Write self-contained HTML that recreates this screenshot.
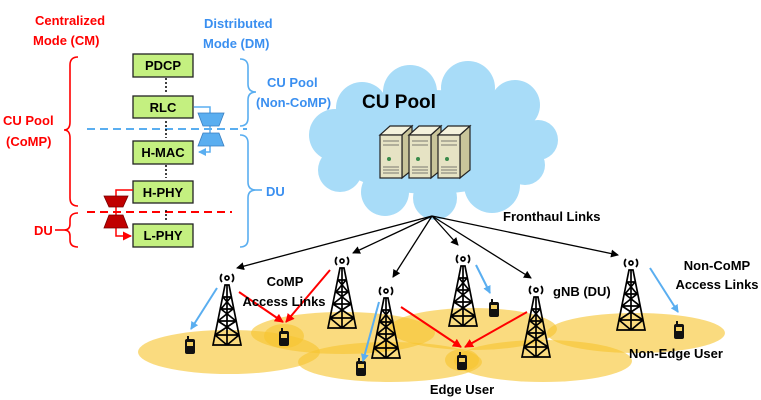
<!DOCTYPE html>
<html><head><meta charset="utf-8"><style>
html,body{margin:0;padding:0;background:#fff;}
svg{display:block;font-family:"Liberation Sans",sans-serif;font-weight:bold;}
</style></head><body>
<svg width="761" height="400" viewBox="0 0 761 400" xmlns="http://www.w3.org/2000/svg">
<defs>
<marker id="ak" markerWidth="8" markerHeight="8" refX="7" refY="4" orient="auto" markerUnits="userSpaceOnUse"><path d="M0,0L8,4L0,8z" fill="#000"/></marker>
<marker id="ar" markerWidth="9" markerHeight="9" refX="8" refY="4.5" orient="auto" markerUnits="userSpaceOnUse"><path d="M0,0L9,4.5L0,9z" fill="#f00"/></marker>
<marker id="ab" markerWidth="8" markerHeight="8" refX="7" refY="4" orient="auto" markerUnits="userSpaceOnUse"><path d="M0,0L8,4L0,8z" fill="#5aaef0"/></marker>
<g id="tw" fill="none" stroke="#000" stroke-width="1.7">
<circle cx="0" cy="-3" r="2"/>
<path d="M-5,-7 A6,6 0 0,0 -5,1 M5,-7 A6,6 0 0,1 5,1"/>
<path d="M-2,4 L-14,64 L14,64 L2,4 Z M0,4 L0,64 M-4,16 L4,16 M-6,28 L6,28 M-9,40 L9,40 M-12,54 L12,54 M-4,16 L6,28 M4,16 L-6,28 M-6,28 L9,40 M6,28 L-9,40 M-9,40 L12,54 M9,40 L-12,54 M-12,54 L0,64 M12,54 L0,64"/>
</g>
<g id="ph"><rect x="-5" y="-7" width="10" height="15" rx="2" fill="#111"/><rect x="-3" y="-4" width="6" height="4" fill="#f5d060"/><rect x="-3" y="-10" width="2" height="4" fill="#111"/></g>
<g id="sv">
<polygon points="0,14 10,5 32,5 22,14" fill="#f4f2dc" stroke="#222" stroke-width="1.2"/>
<polygon points="22,14 32,5 32,49 22,57" fill="#c9c59a" stroke="#222" stroke-width="1.2"/>
<rect x="0" y="14" width="22" height="43" fill="#e6e3c4" stroke="#222" stroke-width="1.2"/>
<path d="M3,20h16M3,24h16M3,46h16M3,49h16M3,52h16" stroke="#555" stroke-width="0.8"/>
<circle cx="9" cy="38" r="2" fill="#3a8a4a"/>
</g>
</defs>

<!-- cloud -->
<g fill="#a8dcf8">
<ellipse cx="432" cy="142" rx="108" ry="52"/>
<circle cx="362" cy="108" r="26"/><circle cx="410" cy="92" r="27"/><circle cx="468" cy="88" r="27"/><circle cx="515" cy="105" r="25"/>
<circle cx="538" cy="140" r="20"/><circle cx="335" cy="135" r="26"/><circle cx="340" cy="170" r="22"/>
<circle cx="385" cy="192" r="24"/><circle cx="435" cy="198" r="22"/><circle cx="492" cy="185" r="28"/><circle cx="525" cy="165" r="20"/>
</g>
<text x="399" y="108" font-size="19" text-anchor="middle" fill="#000">CU Pool</text>
<use href="#sv" x="380" y="121"/><use href="#sv" x="409" y="121"/><use href="#sv" x="438" y="121"/>
<text x="503" y="221" font-size="13">Fronthaul Links</text>

<!-- coverage -->
<g fill="#f7c531" fill-opacity="0.62">
<ellipse cx="229" cy="352" rx="91" ry="22"/><ellipse cx="343" cy="333" rx="92" ry="21"/>
<ellipse cx="390" cy="362" rx="92" ry="20"/><ellipse cx="473" cy="329" rx="84" ry="21"/>
<ellipse cx="543" cy="361" rx="89" ry="21"/><ellipse cx="636" cy="333" rx="89" ry="20"/>
<ellipse cx="284" cy="336" rx="20" ry="12"/><ellipse cx="462" cy="360" rx="17" ry="11"/>
</g>

<!-- fronthaul -->
<g stroke="#000" stroke-width="1.3" marker-end="url(#ak)">
<line x1="432" y1="216" x2="237" y2="268"/><line x1="432" y1="216" x2="353" y2="253"/>
<line x1="432" y1="216" x2="393" y2="277"/><line x1="432" y1="216" x2="458" y2="245"/>
<line x1="432" y1="216" x2="531" y2="278"/><line x1="432" y1="216" x2="618" y2="255"/>
</g>

<!-- towers -->
<use href="#tw" x="227" y="281"/><use href="#tw" x="342" y="264"/><use href="#tw" x="386" y="294"/>
<use href="#tw" x="463" y="262"/><use href="#tw" x="536" y="293"/><use href="#tw" x="631" y="266"/>

<!-- phones -->
<use href="#ph" x="190" y="346"/><use href="#ph" x="284" y="338"/><use href="#ph" x="361" y="368"/>
<use href="#ph" x="494" y="309"/><use href="#ph" x="462" y="362"/><use href="#ph" x="679" y="331"/>

<!-- access links -->
<g stroke="#f00" stroke-width="2" marker-end="url(#ar)">
<line x1="239" y1="292" x2="283" y2="322"/><line x1="330" y1="270" x2="286" y2="322"/>
<line x1="401" y1="307" x2="461" y2="347"/><line x1="527" y1="312" x2="465" y2="347"/>
</g>
<g stroke="#5aaef0" stroke-width="2" marker-end="url(#ab)">
<line x1="217" y1="288" x2="191" y2="329"/><line x1="379" y1="302" x2="363" y2="361"/>
<line x1="476" y1="265" x2="490" y2="293"/><line x1="650" y1="268" x2="678" y2="312"/>
</g>

<g font-size="13" fill="#000">
<text x="285" y="286" text-anchor="middle">CoMP</text>
<text x="284" y="306" text-anchor="middle">Access Links</text>
<text x="553" y="296">gNB (DU)</text>
<text x="717" y="270" text-anchor="middle">Non-CoMP</text>
<text x="717" y="289" text-anchor="middle">Access Links</text>
<text x="676" y="358" text-anchor="middle">Non-Edge User</text>
<text x="462" y="394" text-anchor="middle">Edge User</text>
</g>

<!-- left panel -->
<g font-size="13">
<text x="35" y="25" fill="#f00">Centralized</text>
<text x="33" y="45" fill="#f00">Mode (CM)</text>
<text x="204" y="28" fill="#3a8ff0">Distributed</text>
<text x="203" y="48" fill="#3a8ff0">Mode (DM)</text>
<text x="267" y="87" fill="#3a8ff0">CU Pool</text>
<text x="256" y="107" fill="#3a8ff0">(Non-CoMP)</text>
<text x="266" y="196" fill="#3a8ff0">DU</text>
<text x="3" y="125" fill="#f00">CU Pool</text>
<text x="6" y="146" fill="#f00">(CoMP)</text>
<text x="34" y="235" fill="#f00">DU</text>
</g>

<!-- braces -->
<g fill="none" stroke-width="1.6">
<path d="M78,57 Q70,57 70,65 L70,122 Q70,130 64,130 Q70,130 70,138 L70,198 Q70,206 78,206" stroke="#f00"/>
<path d="M78,213 Q70,213 70,220 L70,224 Q70,230 64,230 Q70,230 70,236 L70,240 Q70,247 78,247" stroke="#f00"/>
<line x1="55" y1="230" x2="64" y2="230" stroke="#f00"/>
<path d="M240,59 Q248,59 248,67 L248,84 Q248,92 256,92 Q248,92 248,100 L248,118 Q248,126 240,126" stroke="#5aaef0"/>
<path d="M240,135 Q248,135 248,143 L248,182 Q248,190 256,190 Q248,190 248,198 L248,239 Q248,247 240,247" stroke="#5aaef0"/>
<line x1="256" y1="190" x2="262" y2="190" stroke="#5aaef0"/>
</g>

<!-- dashed lines -->
<line x1="87" y1="129" x2="247" y2="129" stroke="#5aaef0" stroke-width="2" stroke-dasharray="8,5"/>
<line x1="87" y1="212" x2="232" y2="212" stroke="#f00" stroke-width="2" stroke-dasharray="8,5"/>

<!-- dotted connectors -->
<g stroke="#000" stroke-width="1.5" stroke-dasharray="2,2">
<line x1="166" y1="78" x2="166" y2="93"/><line x1="166" y1="121" x2="166" y2="138"/>
<line x1="166" y1="165" x2="166" y2="178"/><line x1="166" y1="210" x2="166" y2="221"/>
</g>

<!-- boxes -->
<g stroke="#222" stroke-width="1.3" fill="#c4f080">
<rect x="133" y="54" width="60" height="23"/><rect x="133" y="96" width="60" height="22"/>
<rect x="133" y="141" width="60" height="23"/><rect x="133" y="181" width="60" height="22"/>
<rect x="133" y="224" width="60" height="23"/>
</g>
<g font-size="13" text-anchor="middle" fill="#000">
<text x="163" y="70">PDCP</text><text x="163" y="112">RLC</text><text x="163" y="157">H-MAC</text>
<text x="163" y="197">H-PHY</text><text x="163" y="240">L-PHY</text>
</g>

<!-- blue switch -->
<path d="M194,107 L210,107 L210,152 L199,152" fill="none" stroke="#5aaef0" stroke-width="1.5" marker-end="url(#ab)"/>
<polygon points="198,113 224,113 219,126 203,126" fill="#5aaef0" stroke="#3a7fc0" stroke-width="0.8"/>
<polygon points="203,133 219,133 224,146 198,146" fill="#5aaef0" stroke="#3a7fc0" stroke-width="0.8"/>

<!-- red switch -->
<path d="M133,190 L116,190 L116,236 L131,236" fill="none" stroke="#f00" stroke-width="1.5" marker-end="url(#ar)"/>
<polygon points="104,196 128,196 123,207 109,207" fill="#c00000" stroke="#700" stroke-width="0.8"/>
<polygon points="109,215 123,215 128,228 104,228" fill="#c00000" stroke="#700" stroke-width="0.8"/>
</svg>
</body></html>
